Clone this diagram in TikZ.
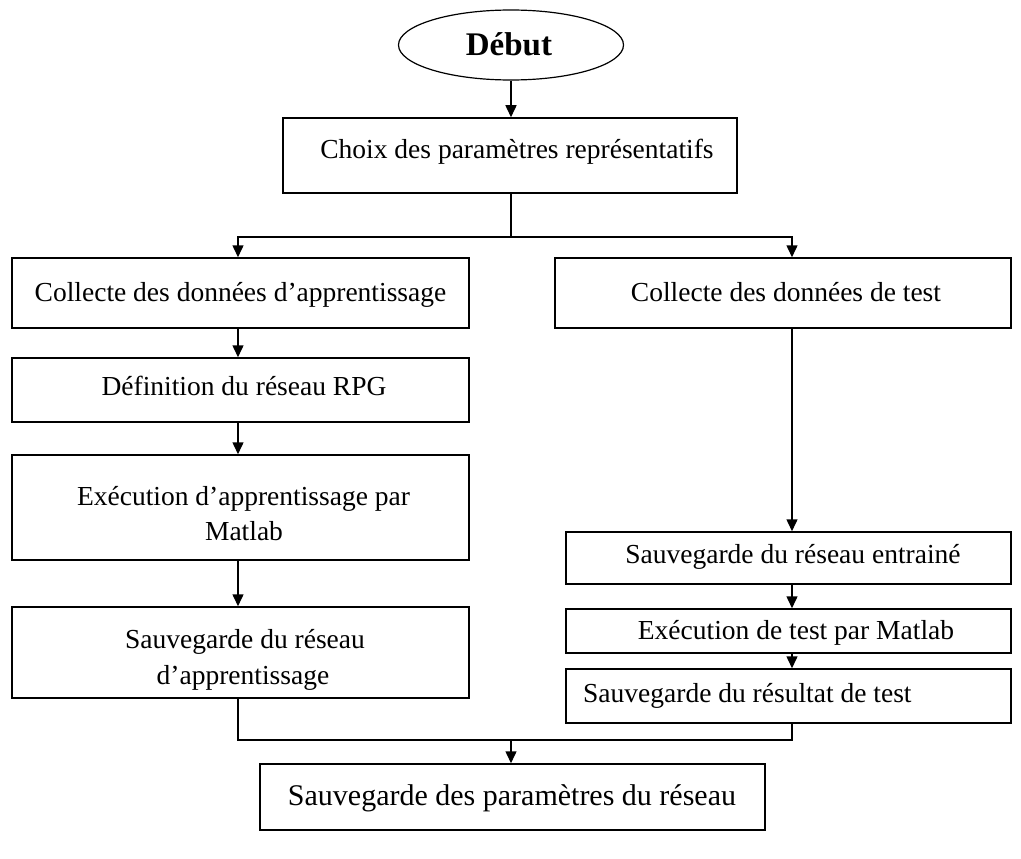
\documentclass[tikz,border=0pt]{standalone}
\usepackage{fontspec}
\setmainfont{Liberation Serif}
\usetikzlibrary{arrows.meta,shapes.geometric}
\begin{document}
\begin{tikzpicture}[x=1pt,y=-1pt,
  box/.style={draw, line width=1.5pt, inner sep=0pt, rectangle},
  txt/.style={anchor=base, inner sep=0pt, font=\fontsize{27.5}{33}\selectfont},
  link/.style={line width=1.5pt},
  flow/.style={line width=1.5pt, -{Triangle[width=11pt,length=12pt]}}]
\useasboundingbox (0,0) rectangle (1021,859);

% start terminal
\node[ellipse, draw, line width=1.2pt, minimum width=225pt, minimum height=70pt, inner sep=0pt] (deb) at (511,45) {};
\node[anchor=base, inner sep=0pt, font=\fontsize{33}{38}\selectfont\bfseries] (tdeb) at (509,56) {Début};

% boxes
\node[box, minimum width=454pt, minimum height=75pt] (choix) at (510,155.5) {};
\node[box, minimum width=457pt, minimum height=70pt] (la) at (240.5,293) {};
\node[box, minimum width=457pt, minimum height=64pt] (lb) at (240.5,390) {};
\node[box, minimum width=457pt, minimum height=105pt] (lc) at (240.5,507.5) {};
\node[box, minimum width=457pt, minimum height=91pt] (ld) at (240.5,652.5) {};
\node[box, minimum width=456pt, minimum height=70pt] (ra) at (783,293) {};
\node[box, minimum width=445pt, minimum height=52pt] (rb) at (788.5,558) {};
\node[box, minimum width=445pt, minimum height=44pt] (rc) at (788.5,631) {};
\node[box, minimum width=445pt, minimum height=54pt] (rd) at (788.5,696) {};
\node[box, minimum width=505pt, minimum height=66pt] (fin) at (512.5,797) {};

% texts
\node[txt] (tchoix) at (517,158) {Choix des paramètres représentatifs};
\node[txt] (tla) at (240.5,301) {Collecte des données d’apprentissage};
\node[txt] (tlb) at (244,395) {Définition du réseau RPG};
\node[txt] (tlc1) at (243.5,505) {Exécution d’apprentissage par};
\node[txt] (tlc2) at (244,540) {Matlab};
\node[txt] (tld1) at (245,648) {Sauvegarde du réseau};
\node[txt] (tld2) at (243,684) {d’apprentissage};
\node[txt] (tra) at (786,301) {Collecte des données de test};
\node[txt] (trb) at (793,563) {Sauvegarde du réseau entrainé};
\node[txt] (trc) at (796,639) {Exécution de test par Matlab};
\node[txt, anchor=base west] (trd) at (583,702) {Sauvegarde du résultat de test};
\node[txt, font=\fontsize{30}{35}\selectfont] (tfin) at (512,805) {Sauvegarde des paramètres du réseau};

% junction points and column axes
\coordinate (split) at (511,237);
\coordinate (merge) at (511,740);
\coordinate (lx) at (238,0);
\coordinate (rx) at (792,0);

% connectors
\draw[flow] (deb.south) -- (deb.south |- choix.north);
\draw[link] (deb.south |- choix.south) -- (split);
\draw[flow] (split) -| (lx |- la.north);
\draw[flow] (split) -| (rx |- ra.north);
\draw[flow] (lx |- la.south) -- (lx |- lb.north);
\draw[flow] (lx |- lb.south) -- (lx |- lc.north);
\draw[flow] (lx |- lc.south) -- (lx |- ld.north);
\draw[flow] (rx |- ra.south) -- (rx |- rb.north);
\draw[flow] (rx |- rb.south) -- (rx |- rc.north);
\draw[flow] (rx |- rc.south) -- (rx |- rd.north);
\draw[link] (lx |- ld.south) |- (merge) -| (rx |- rd.south);
\draw[flow] (merge) -- (merge |- fin.north);
\end{tikzpicture}
\end{document}
